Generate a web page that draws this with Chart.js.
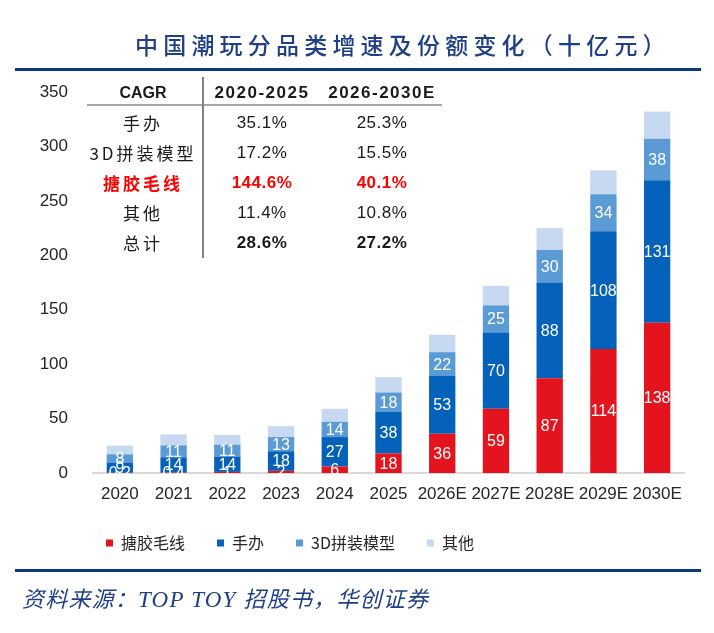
<!DOCTYPE html>
<html>
<head>
<meta charset="utf-8">
<script src="https://cdn.jsdelivr.net/npm/chart.js@4.4.1/dist/chart.umd.min.js"></script>
<style>
  body { margin: 0; background: #fff; }
  .page { position: relative; width: 714px; height: 633px; overflow: hidden; font-family: "Noto Sans CJK SC", sans-serif; }
  #chart { position: absolute; left: 0; top: 0; }
  .title { position: absolute; left: 135px; top: 28px; font-size: 23px; font-weight: 500; letter-spacing: 5.2px; color: #1f3f86; white-space: nowrap; line-height: 32px; }
  .rule { position: absolute; left: 15px; width: 686px; height: 3px; background: #0b3a7c; }
  .source { position: absolute; left: 22px; top: 582px; font-size: 22px; font-style: italic; color: #1f3f86; letter-spacing: 1.2px; white-space: nowrap; line-height: 30px; }
  .source span { font-family: "Liberation Serif", serif; font-size: 23px; }
  .cell { position: absolute; transform: translate(-50%, -50%); white-space: nowrap; color: #1a1a1a; line-height: 20px; }
  .lbl { font-size: 17px; letter-spacing: 3px; }
  .num { font-family: "Liberation Sans", sans-serif; font-size: 17px; letter-spacing: 0.5px; }
  .headnum { font-family: "Liberation Sans", sans-serif; font-size: 17px; letter-spacing: 1.5px; font-weight: bold; }
  .head { font-weight: bold; }
  .hot { color: #ff0000; font-weight: bold; }
  .bold { font-weight: bold; }
  .hline { position: absolute; left: 87px; top: 104px; width: 355px; height: 2px; background: #a6a6a6; }
  .vline { position: absolute; left: 202px; top: 77px; width: 2px; height: 181px; background: #7f7f7f; }
</style>
</head>
<body>
<div class="page">
  <canvas id="chart" width="714" height="633"></canvas>
  <div class="title">中国潮玩分品类增速及份额变化（十亿元）</div>
  <div class="rule" style="top:68px"></div>
  <div class="rule" style="top:569px"></div>
  <div class="source">资料来源：<span>TOP TOY </span>招股书，华创证券</div>
  <div id="cagr"></div>
</div>
<script>
// bar data (十亿元)
const years = ["2020", "2021", "2022", "2023", "2024", "2025", "2026E", "2027E", "2028E", "2029E", "2030E"];
const plush = [0.2, 0.4, 1, 2, 6, 18, 36, 59, 87, 114, 138];
const figures = [9, 14, 14, 18, 27, 38, 53, 70, 88, 108, 131];
const models = [8, 11, 11, 13, 14, 18, 22, 25, 30, 34, 38];
const others = [8, 10, 9, 10, 12, 14, 16, 18, 20, 22, 25];
const yTicks = [0, 50, 100, 150, 200, 250, 300, 350];

// CAGR table
const cagrHeader = ["CAGR", "2020-2025", "2026-2030E"];
const cagrRows = ["手办", "3D拼装模型", "搪胶毛线", "其他", "总计"];
const cagr2025 = ["35.1%", "17.2%", "144.6%", "11.4%", "28.6%"];
const cagr2030 = ["25.3%", "15.5%", "40.1%", "10.8%", "27.2%"];

function buildTable() {
  const box = document.getElementById("cagr");
  const colX = [143, 262, 382];
  let html = `<div class="hline"></div><div class="vline"></div>`;
  html += `<div class="cell head" style="left:${colX[0]}px;top:93px;font-family:'Liberation Sans';font-size:16px">${cagrHeader[0]}</div>`;
  html += `<div class="cell headnum" style="left:${colX[1]}px;top:93px">${cagrHeader[1]}</div>`;
  html += `<div class="cell headnum" style="left:${colX[2]}px;top:93px">${cagrHeader[2]}</div>`;
  cagrRows.forEach((name, i) => {
    const y = 123 + i * 30;
    let extra = "";
    if (name === "搪胶毛线") extra = " hot";
    let numExtra = extra;
    if (name === "总计") numExtra = " bold";
    html += `<div class="cell lbl${extra}" style="left:${colX[0]}px;top:${y}px">${name}</div>`;
    html += `<div class="cell num${numExtra}" style="left:${colX[1]}px;top:${y}px">${cagr2025[i]}</div>`;
    html += `<div class="cell num${numExtra}" style="left:${colX[2]}px;top:${y}px">${cagr2030[i]}</div>`;
  });
  box.innerHTML = html;
}
buildTable();

// white value labels centred in the first three segments
const barLabels = {
  id: "barLabels",
  afterDatasetsDraw(chart) {
    const ctx = chart.ctx;
    ctx.save();
    ctx.fillStyle = "#ffffff";
    ctx.font = "16px 'Liberation Sans'";
    ctx.textAlign = "center";
    ctx.textBaseline = "middle";
    [0, 1, 2].forEach((di) => {
      const meta = chart.getDatasetMeta(di);
      const values = chart.data.datasets[di].data;
      meta.data.forEach((bar, i) => {
        const v = values[i];
        const text = v < 1 ? v.toFixed(1) : String(Math.round(v));
        ctx.fillText(text, bar.x, (bar.y + bar.base) / 2 + 1);
      });
    });
    ctx.restore();
  },
};

// legend sits further right than the y axis box, so nudge it over
const legendShift = {
  id: "legendShift",
  afterLayout(chart) {
    chart.legend.left = 74;
  },
};

new Chart(document.getElementById("chart"), {
  type: "bar",
  data: {
    labels: years,
    datasets: [
      { label: "搪胶毛线", data: plush, backgroundColor: "#e3141e" },
      { label: "手办", data: figures, backgroundColor: "#0562ba" },
      { label: "3D拼装模型", data: models, backgroundColor: "#5b9bd5" },
      { label: "其他", data: others, backgroundColor: "#c6d9f0" },
    ],
  },
  options: {
    responsive: false,
    animation: false,
    layout: {
      padding: { left: 20, right: 30, top: 92, bottom: 72 },
    },
    datasets: {
      bar: { categoryPercentage: 1, barPercentage: 0.49 },
    },
    scales: {
      x: {
        stacked: true,
        grid: { display: false, drawTicks: false },
        border: { color: "#d9d9d9", width: 2 },
        ticks: {
          color: "#262626",
          padding: 11,
          font: { family: "Liberation Sans", size: 17 },
          maxRotation: 0,
        },
        afterFit(scale) {
          scale.height = 30;
        },
      },
      y: {
        stacked: true,
        min: 0,
        max: 350,
        grid: { display: false, drawTicks: false },
        border: { display: false },
        afterBuildTicks(scale) {
          scale.ticks = yTicks.map((v) => ({ value: v }));
        },
        ticks: {
          color: "#262626",
          padding: 25,
          font: { family: "Liberation Sans", size: 17 },
        },
        afterFit(scale) {
          scale.width = 73;
        },
      },
    },
    plugins: {
      legend: {
        position: "bottom",
        align: "start",
        labels: {
          boxWidth: 7,
          boxHeight: 7,
          padding: 32,
          color: "#262626",
          font: { family: "Noto Sans CJK SC", size: 16 },
        },
      },
      tooltip: { enabled: false },
    },
  },
  plugins: [barLabels, legendShift],
});
</script>
</body>
</html>
